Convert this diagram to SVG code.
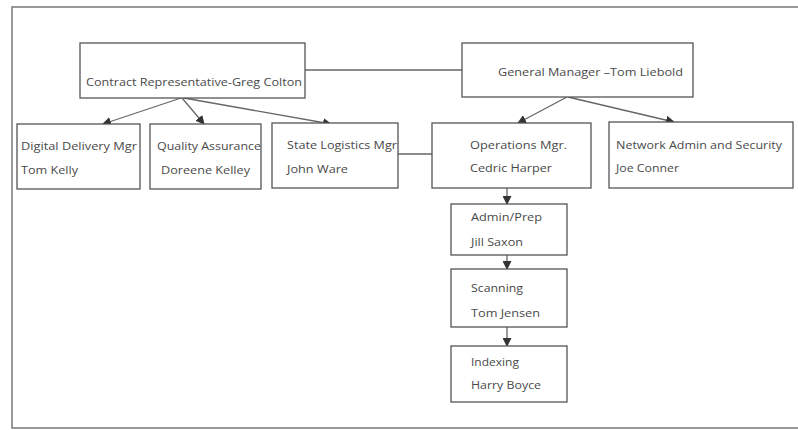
<svg xmlns="http://www.w3.org/2000/svg" width="798" height="430" viewBox="0 0 798 430">
<style>
.box{fill:#fff;stroke:#555;stroke-width:1.3}
.t{font-family:"Open Sans","Liberation Sans",sans-serif;font-size:11.5px;fill:#4a4a4a}
.c{stroke:#666;stroke-width:1.3;fill:none}
.frame{stroke:#777;stroke-width:1.5;fill:none}
</style>
<defs>
<marker id="ah" markerWidth="9" markerHeight="9" refX="8" refY="4.5" orient="auto" markerUnits="userSpaceOnUse">
<path d="M0,0 L9,4.5 L0,9 Z" fill="#333"/>
</marker>
</defs>
<rect width="798" height="430" fill="#fff"/>
<path class="frame" d="M798,7 H12 V428 H798"/>
<g id="connectors">
<line class="c" x1="305" y1="70" x2="462" y2="70"/>
<line class="c" x1="398" y1="154" x2="432" y2="154"/>
<line class="c" x1="181" y1="98" x2="103" y2="124" marker-end="url(#ah)"/>
<line class="c" x1="182" y1="98" x2="204" y2="124" marker-end="url(#ah)"/>
<line class="c" x1="184" y1="98" x2="331" y2="124" marker-end="url(#ah)"/>
<line class="c" x1="567" y1="97" x2="518" y2="123" marker-end="url(#ah)"/>
<line class="c" x1="568" y1="97" x2="674" y2="122" marker-end="url(#ah)"/>
<line class="c" x1="507" y1="188" x2="507" y2="204" marker-end="url(#ah)"/>
<line class="c" x1="507" y1="255" x2="507" y2="269" marker-end="url(#ah)"/>
<line class="c" x1="507" y1="327" x2="507" y2="346" marker-end="url(#ah)"/>
</g>
<g id="contract">
<rect class="box" x="80" y="43" width="225" height="55"/>
<text class="t" x="86" y="86" textLength="216" lengthAdjust="spacingAndGlyphs">Contract Representative-Greg Colton</text>
</g>
<g id="gm">
<rect class="box" x="462" y="43" width="231" height="54"/>
<text class="t" x="498" y="76" textLength="185" lengthAdjust="spacingAndGlyphs">General Manager –Tom Liebold</text>
</g>
<g id="digital">
<rect class="box" x="17" y="124" width="123" height="65"/>
<text class="t" x="21" y="150" textLength="116" lengthAdjust="spacingAndGlyphs">Digital Delivery Mgr</text>
<text class="t" x="21" y="174" textLength="57" lengthAdjust="spacingAndGlyphs">Tom Kelly</text>
</g>
<g id="quality">
<rect class="box" x="150" y="124" width="111" height="65"/>
<text class="t" x="157" y="150" textLength="104" lengthAdjust="spacingAndGlyphs">Quality Assurance</text>
<text class="t" x="161" y="174" textLength="89" lengthAdjust="spacingAndGlyphs">Doreene Kelley</text>
</g>
<g id="state">
<rect class="box" x="272" y="123" width="126" height="65"/>
<text class="t" x="287" y="149" textLength="110" lengthAdjust="spacingAndGlyphs">State Logistics Mgr</text>
<text class="t" x="287" y="173" textLength="61" lengthAdjust="spacingAndGlyphs">John Ware</text>
</g>
<g id="operations">
<rect class="box" x="432" y="123" width="159" height="65"/>
<text class="t" x="470" y="149" textLength="97" lengthAdjust="spacingAndGlyphs">Operations Mgr.</text>
<text class="t" x="470" y="172" textLength="82" lengthAdjust="spacingAndGlyphs">Cedric Harper</text>
</g>
<g id="network">
<rect class="box" x="609" y="122" width="184" height="66"/>
<text class="t" x="616" y="149" textLength="166" lengthAdjust="spacingAndGlyphs">Network Admin and Security</text>
<text class="t" x="616" y="172" textLength="63" lengthAdjust="spacingAndGlyphs">Joe Conner</text>
</g>
<g id="admin">
<rect class="box" x="451" y="204" width="116" height="51"/>
<text class="t" x="471" y="221" textLength="71" lengthAdjust="spacingAndGlyphs">Admin/Prep</text>
<text class="t" x="471" y="246" textLength="52" lengthAdjust="spacingAndGlyphs">Jill Saxon</text>
</g>
<g id="scanning">
<rect class="box" x="451" y="269" width="116" height="58"/>
<text class="t" x="471" y="292" textLength="52" lengthAdjust="spacingAndGlyphs">Scanning</text>
<text class="t" x="471" y="317" textLength="69" lengthAdjust="spacingAndGlyphs">Tom Jensen</text>
</g>
<g id="indexing">
<rect class="box" x="451" y="346" width="116" height="56"/>
<text class="t" x="471" y="366" textLength="48" lengthAdjust="spacingAndGlyphs">Indexing</text>
<text class="t" x="471" y="389" textLength="70" lengthAdjust="spacingAndGlyphs">Harry Boyce</text>
</g>
</svg>
